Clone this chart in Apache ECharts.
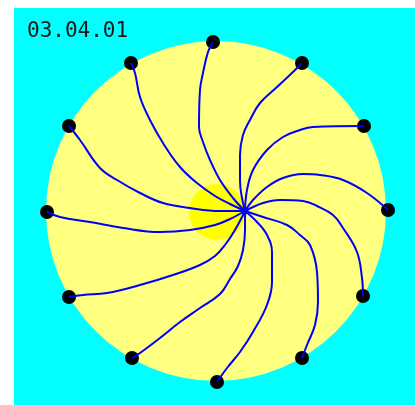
<!DOCTYPE html>
<html>
<head>
<meta charset="utf-8">
<script src="https://cdn.jsdelivr.net/npm/echarts@6/dist/echarts.min.js"></script>
<style>
  html, body { margin: 0; padding: 0; background: #fff; }
  #chart { width: 415px; height: 405px; }
</style>
</head>
<body>
<div id="chart"></div>
<script>
// label in the top left corner
const title = '03.04.01';

// big disc and small disc: centre x, centre y, radius (picture units)
const discX = [216, 217];
const discY = [211, 212];
const discR = [170, 28];

// where every curve meets
const hub = [245, 211];

// the 12 black dots round the rim, clockwise from the top
const dotX = [213, 302, 364, 388, 363, 302, 217, 132, 69, 47, 69, 131];
const dotY = [42, 63, 126, 210, 296, 358, 382, 358, 297, 212, 126, 63];

// curves from each dot to the hub
const spokes = [
    [[213, 42], [208, 52], [203, 73], [200, 90], [199, 127], [203, 142], [210, 160], [220, 180], [233, 198], [245, 211]],
    [[302, 63], [293, 72], [277, 87], [260, 103], [250, 120], [243, 135], [240, 155], [240, 180], [245, 211]],
    [[364, 126], [313, 127], [300, 130], [283, 137], [267, 150], [253, 170], [247, 190], [245, 211]],
    [[388, 210], [367, 193], [343, 180], [320, 175], [303, 174], [283, 178], [267, 187], [253, 200], [245, 211]],
    [[363, 296], [362, 278], [357, 252], [343, 228], [333, 215], [317, 206], [303, 201], [280, 200], [263, 203], [245, 211]],
    [[302, 358], [307, 345], [315, 325], [318, 302], [317, 272], [310, 245], [300, 235], [287, 225], [263, 217], [245, 211]],
    [[217, 382], [227, 368], [240, 352], [253, 332], [267, 305], [272, 282], [272, 252], [267, 235], [257, 222], [245, 211]],
    [[132, 358], [140, 353], [160, 338], [180, 322], [200, 308], [220, 294], [230, 279], [238, 266], [243, 250], [245, 230], [245, 211]],
    [[69, 297], [83, 295], [107, 293], [140, 285], [173, 275], [200, 265], [215, 256], [225, 245], [235, 230], [245, 211]],
    [[47, 212], [60, 217], [90, 222], [123, 228], [160, 232], [190, 230], [215, 225], [230, 219], [245, 211]],
    [[69, 126], [80, 140], [100, 168], [117, 180], [140, 193], [163, 203], [190, 208], [220, 211], [245, 211]],
    [[131, 63], [135, 73], [140, 97], [150, 120], [163, 143], [180, 167], [197, 183], [215, 196], [230, 204], [245, 211]]
];

const chart = echarts.init(document.getElementById('chart'));

// 圆盘
const discSeries = {
    type: 'custom',
    silent: true,
    data: discX.map((x, i) => [x, discY[i], discR[i]]),
    renderItem: (params, api) => {
        const c = api.coord([api.value(0), api.value(1)]);
        const r = api.size([api.value(2), 0])[0];
        return {
            type: 'circle',
            shape: { cx: c[0], cy: c[1], r: r },
            style: { fill: params.dataIndex === 0 ? '#ffff80' : '#ffff00' }
        };
    }
};

// 曲线
const spokeSeries = spokes.map(pts => ({
    type: 'line',
    data: pts,
    smooth: 0.4,
    symbol: 'none',
    silent: true,
    lineStyle: { color: '#0000ff', width: 2 }
}));

chart.setOption({
    backgroundColor: '#ffffff',
    animation: false,
    grid: {
        left: 14, top: 8, right: 0, bottom: 0,
        show: true, backgroundColor: '#00ffff', borderWidth: 0
    },
    xAxis: { type: 'value', min: 14, max: 415, show: false },
    yAxis: { type: 'value', min: 8, max: 405, inverse: true, show: false },
    graphic: [{
        type: 'text',
        left: 27, top: 21,
        style: {
            text: title,
            font: '21px "DejaVu Sans Mono"',
            fill: '#1a1a1a'
        }
    }],
    series: [
        discSeries,
        ...spokeSeries,
        {
            type: 'scatter',
            data: [hub],
            symbolSize: 7,
            silent: true,
            itemStyle: { color: '#0000ff', opacity: 1 }
        },
        {
            type: 'scatter',
            data: dotX.map((x, i) => [x, dotY[i]]),
            symbolSize: 14,
            silent: true,
            itemStyle: { color: '#000000', opacity: 1 }
        }
    ]
});
</script>
</body>
</html>
